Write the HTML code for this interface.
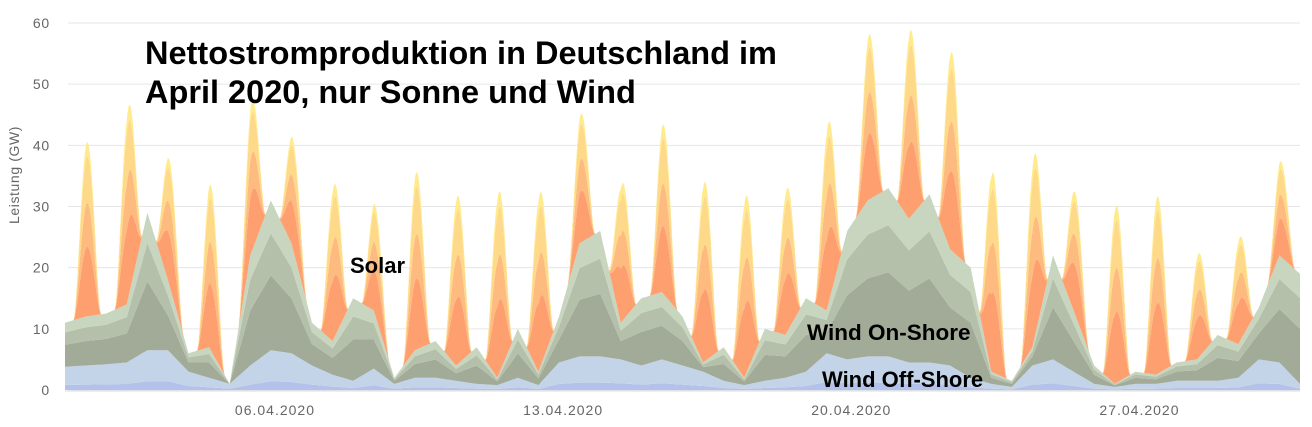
<!DOCTYPE html>
<html><head><meta charset="utf-8">
<style>
body{margin:0;background:#fff;width:1312px;height:427px;overflow:hidden;font-family:"Liberation Sans",Arial,sans-serif}
svg{display:block}
</style></head>
<body>
<svg id="chart" width="1312" height="427" xmlns="http://www.w3.org/2000/svg">
<g id="grid"></g>
<g id="areas"></g>
<g id="axes"></g>
<text x="19" y="175" transform="rotate(-90 19 175)" text-anchor="middle" font-size="14" letter-spacing="0.6" fill="#666">Leistung (GW)</text>
<text x="145" y="64" font-size="32.5" font-weight="bold" fill="#000">Nettostromproduktion in Deutschland im</text>
<text x="145" y="103" font-size="32.5" font-weight="bold" fill="#000">April 2020, nur Sonne und Wind</text>
<text x="350" y="273" font-size="22" font-weight="bold" fill="#000">Solar</text>
<text x="807" y="340" font-size="22.5" font-weight="bold" fill="#000">Wind On-Shore</text>
<text x="822" y="387" font-size="22" font-weight="bold" fill="#000">Wind Off-Shore</text>
</svg>
<script>
// half-day samples (00h, 12h per day, plus end)
const offshore = [3.8,4, 4.2,4.5, 6.5,6.5, 3,2, 1,4, 6.5,6, 4,2.5, 1.5,3.5, 1,2, 2,1.5, 1,0.8, 2,0.8, 4.5,5.5, 5.5,5, 4,5, 4,3, 1.5,0.8, 1.5,2, 3,6, 5,5.5, 5.5,4.5, 4.5,4, 2,1, 0.5,4, 5,3, 1,0.5, 1,1, 1.5,1.5, 1.5,2, 5,4.5, 1];
const onshore = [7.2,8, 8.3,9.5, 22.5,11.5, 3,5, 0,18, 24.5,18, 7,5.5, 13.5,9.5, 1,4.5, 6,2.5, 6,1.2, 8,2.2, 7.5,18.5, 20.5,6, 11,11, 8,1.5, 5.5,1.2, 8.5,7, 12,7, 21,25.5, 27.5,23.5, 27.5,19, 18,2, 1,3, 17,10, 3,0.5, 2,1.5, 3,3.5, 7.5,5.5, 8.5,17.5, 18];
// daily solar peak (GW)
const solarPeak = [28.5,31,20.5,27,24.5,18,25,18,29,27.5,29.7,28.5,21,22.5,27.7,29.3,29,23.5,29.5,27,30.5,32.5,32.7,30,20,29,29,17,17,15.6];
const yTicks = [0,10,20,30,40,50,60];
const xTickLabels = ["06.04.2020","13.04.2020","20.04.2020","27.04.2020"];
const xTickPos = [5.1,12.1,19.1,26.1]; // day index positions

const NS="http://www.w3.org/2000/svg";
const X0=65,X1=1300,Y0=390,YMAX=60,YTOP=23,DAYS=30;
const xs=d=>X0+d/DAYS*(X1-X0);
const ys=v=>Y0-v/YMAX*(Y0-YTOP);
function mk(tag,attrs,parent){const e=document.createElementNS(NS,tag);for(const k in attrs)e.setAttribute(k,attrs[k]);parent.appendChild(e);return e;}

const grid=document.getElementById('grid'),axes=document.getElementById('axes'),areas=document.getElementById('areas');
yTicks.forEach(t=>{
  const l=mk('line',{x1:68,x2:1300,y1:ys(t),y2:ys(t),stroke:'#e6e6e6','stroke-width':1},grid);
  
  
  const tx=mk('text',{x:50,y:ys(t)+5,'text-anchor':'end','font-size':14,'letter-spacing':0.8,fill:'#666'},axes);
  tx.textContent=t;
  
  
});
xTickLabels.forEach((s,i)=>{
  const tx=mk('text',{x:xs(xTickPos[i]),y:415,'text-anchor':'middle','font-size':14,'letter-spacing':1,fill:'#666'},axes);
  tx.textContent=s;
  
  
});

function at(arr,d){const p=d*2;const i=Math.min(Math.floor(p),arr.length-2);const f=p-i;return arr[i]*(1-f)+arr[i+1]*f;}
function solarAt(d){const day=Math.min(Math.floor(d),DAYS-1);const h=(d-day)*24;if(h<5||h>21)return 0;const c=Math.max(0,Math.cos((h-13)/8*Math.PI/2));return solarPeak[day]*Math.pow(c,1.6);}

const layers=[
 {name:'offshore-dark',col:'#b3c2ea',lo:s=>0,hi:s=>0.22*s.off},
 {name:'offshore',col:'#c4d4e8',lo:s=>0.22*s.off,hi:s=>s.off},
 {name:'onshore-core',col:'#a2ab98',lo:s=>s.off,hi:s=>s.off+0.5*s.on},
 {name:'onshore-mid',col:'#b5c0aa',lo:s=>s.off+0.5*s.on,hi:s=>s.off+0.78*s.on},
 {name:'onshore-light',col:'#c8d6c0',lo:s=>s.off+0.78*s.on,hi:s=>s.off+s.on},
 {name:'solar-orange',col:'#fd9f6e',lo:s=>s.off+s.on,hi:s=>s.off+s.on+0.4*s.sol},
 {name:'solar-light-orange',col:'#fdbb80',lo:s=>s.off+s.on+0.4*s.sol,hi:s=>s.off+s.on+0.65*s.sol},
 {name:'solar-yellow',col:'#ffd98a',lo:s=>s.off+s.on+0.65*s.sol,hi:s=>s.off+s.on+0.92*s.sol},
 {name:'solar-pale',col:'#ffeb8e',lo:s=>s.off+s.on+0.92*s.sol,hi:s=>s.off+s.on+s.sol}
];
const samples=[];
for(let k=0;k<=DAYS*48;k++){const d=k/48;samples.push({d,off:at(offshore,d),on:Math.max(0,at(onshore,d)),sol:solarAt(d)});}
layers.forEach(L=>{
  let p='M'+samples.map(s=>xs(s.d).toFixed(1)+','+ys(L.hi(s)).toFixed(1)).join('L');
  p+='L'+samples.slice().reverse().map(s=>xs(s.d).toFixed(1)+','+ys(L.lo(s)).toFixed(1)).join('L')+'Z';
  const e=mk('path',{d:p,fill:L.col,stroke:'none'},areas);
  
  
});
const base=mk('line',{x1:65,x2:1300,y1:391,y2:391,stroke:'#d8dce8','stroke-width':1},axes);


</script>
</body></html>
